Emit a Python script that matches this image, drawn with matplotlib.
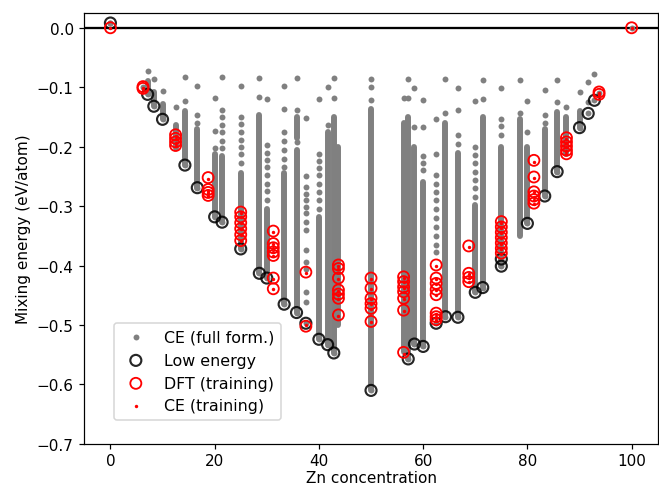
import matplotlib
matplotlib.use("Agg")
import matplotlib.pyplot as plt

# ---------------- data ----------------
# CE (full formation) : isolated points per Zn concentration
ce_sparse_conc = [0, 6.25, 7.14, 8.33, 10, 12.5, 14.29, 16.67, 20, 21.43, 25,
                  28.57, 30, 33.33, 35.71, 37.5, 40, 41.67, 42.86, 50, 56.25,
                  57.14, 58.33, 60, 62.5, 64.29, 66.67, 70, 71.43, 75, 78.57,
                  80, 83.33, 85.71, 87.5, 90, 91.67, 92.86, 93.75, 100]
ce_sparse_vals = [
    [0.008],
    [-0.100],
    [-0.073],
    [-0.087],
    [-0.106],
    [-0.133],
    [-0.082, -0.124],
    [-0.098, -0.146, -0.160],
    [-0.118, -0.174, -0.202],
    [-0.083, -0.139, -0.150, -0.163, -0.176, -0.190, -0.203],
    [-0.098, -0.150, -0.162, -0.175, -0.188, -0.200, -0.213, -0.228],
    [-0.084, -0.116],
    [-0.119, -0.198, -0.210, -0.222, -0.235, -0.248, -0.262, -0.275, -0.290],
    [-0.098, -0.136, -0.176, -0.190, -0.205, -0.220, -0.235],
    [-0.084, -0.139, -0.192],
    [-0.152, -0.249, -0.267, -0.279, -0.290, -0.301, -0.312, -0.326, -0.340,
     -0.373, -0.394, -0.405, -0.444, -0.461],
    [-0.120, -0.212, -0.224, -0.236, -0.248, -0.262, -0.276, -0.290, -0.305],
    [-0.100, -0.164],
    [-0.084, -0.118],
    [-0.087, -0.100, -0.122],
    [-0.118],
    [-0.087, -0.118],
    [-0.102, -0.167],
    [-0.122, -0.167, -0.215, -0.228, -0.240],
    [-0.153, -0.212, -0.248, -0.262, -0.276, -0.290, -0.305, -0.320, -0.335,
     -0.350, -0.365, -0.377],
    [-0.087, -0.143],
    [-0.102, -0.139, -0.180, -0.195],
    [-0.124, -0.200, -0.214, -0.228, -0.242, -0.256, -0.270, -0.284],
    [-0.088, -0.119],
    [-0.102, -0.153, -0.166, -0.180],
    [-0.088, -0.143],
    [-0.124, -0.175],
    [-0.105, -0.146, -0.160],
    [-0.088, -0.125],
    [-0.133],
    [-0.108],
    [-0.091, -0.125],
    [-0.077],
    [-0.110],
    [0.0],
]

# CE (full formation) : densely populated energy ranges per concentration
dense_conc = [7.14, 8.33, 10, 12.5, 14.29, 16.67, 20, 21.43, 25, 28.57, 30,
              33.33, 35.71, 35.71, 40, 41.67, 42.86, 43.75, 50, 56.25, 57.14,
              58.33, 60, 64.29, 66.67, 70, 71.43, 75, 78.57, 80, 83.33, 85.71,
              87.5, 90]
dense_top = [-0.090, -0.108, -0.128, -0.164, -0.140, -0.170, -0.213, -0.216,
             -0.245, -0.147, -0.305, -0.245, -0.150, -0.205, -0.318, -0.175,
             -0.150, -0.200, -0.136, -0.160, -0.150, -0.200, -0.259, -0.160,
             -0.210, -0.298, -0.150, -0.200, -0.153, -0.200, -0.170, -0.142,
             -0.150, -0.140]
dense_bottom = [-0.112, -0.132, -0.154, -0.203, -0.231, -0.269, -0.318, -0.327,
                -0.372, -0.413, -0.421, -0.465, -0.185, -0.479, -0.524, -0.533,
                -0.547, -0.500, -0.610, -0.546, -0.557, -0.532, -0.536, -0.486,
                -0.487, -0.445, -0.437, -0.401, -0.351, -0.329, -0.283, -0.242,
                -0.213, -0.168]

# Low energy structures
low_conc = [0, 7.14, 8.33, 10, 14.29, 16.67, 20, 21.43, 25, 28.57, 30, 33.33,
            35.71, 37.5, 40, 41.67, 42.86, 50, 57.14, 58.33, 60, 62.5, 64.29,
            66.67, 70, 71.43, 75, 75, 80, 83.33, 85.71, 90, 91.67, 92.86]
low_energy = [0.008, -0.112, -0.132, -0.154, -0.231, -0.269, -0.318, -0.327,
              -0.372, -0.413, -0.421, -0.465, -0.479, -0.497, -0.524, -0.533,
              -0.547, -0.610, -0.557, -0.532, -0.536, -0.497, -0.486, -0.487,
              -0.445, -0.437, -0.389, -0.401, -0.329, -0.283, -0.242, -0.168,
              -0.144, -0.122]

# DFT training set
dft_conc = [0, 6.25, 6.25,
            12.5, 12.5, 12.5, 12.5,
            18.75, 18.75, 18.75, 18.75,
            25, 25, 25, 25, 25, 25,
            31.25, 31.25, 31.25, 31.25, 31.25, 31.25, 31.25,
            37.5, 37.5,
            43.75, 43.75, 43.75, 43.75, 43.75, 43.75, 43.75,
            50, 50, 50, 50, 50, 50,
            56.25, 56.25, 56.25, 56.25, 56.25, 56.25, 56.25,
            62.5, 62.5, 62.5, 62.5, 62.5, 62.5, 62.5, 62.5,
            68.75, 68.75, 68.75, 68.75,
            75, 75, 75, 75, 75, 75, 75,
            81.25, 81.25, 81.25, 81.25, 81.25, 81.25,
            87.5, 87.5, 87.5, 87.5, 87.5,
            93.75, 93.75, 100]
dft_energy = [0.0, -0.099, -0.102,
              -0.180, -0.186, -0.192, -0.198,
              -0.252, -0.272, -0.277, -0.282,
              -0.310, -0.318, -0.328, -0.338, -0.348, -0.358,
              -0.342, -0.363, -0.370, -0.377, -0.383, -0.421, -0.439,
              -0.411, -0.502,
              -0.399, -0.405, -0.421, -0.441, -0.448, -0.455, -0.483,
              -0.421, -0.438, -0.455, -0.464, -0.472, -0.494,
              -0.419, -0.427, -0.436, -0.444, -0.455, -0.475, -0.546,
              -0.399, -0.421, -0.430, -0.440, -0.449, -0.480, -0.486, -0.491,
              -0.367, -0.413, -0.420, -0.427,
              -0.326, -0.335, -0.344, -0.353, -0.362, -0.371, -0.379,
              -0.223, -0.251, -0.276, -0.283, -0.289, -0.295,
              -0.185, -0.192, -0.199, -0.206, -0.212,
              -0.108, -0.112, 0.0]

# CE prediction of the training set (coincides with DFT within marker size)
ce_train_conc = list(dft_conc)
ce_train_energy = [0.0, -0.101, -0.103,
                   -0.182, -0.187, -0.193, -0.199,
                   -0.254, -0.274, -0.278, -0.283,
                   -0.312, -0.319, -0.329, -0.339, -0.349, -0.359,
                   -0.344, -0.364, -0.371, -0.378, -0.384, -0.422, -0.440,
                   -0.413, -0.500,
                   -0.401, -0.406, -0.422, -0.442, -0.449, -0.456, -0.484,
                   -0.422, -0.439, -0.456, -0.465, -0.473, -0.495,
                   -0.421, -0.428, -0.437, -0.445, -0.456, -0.476, -0.548,
                   -0.401, -0.422, -0.431, -0.441, -0.450, -0.481, -0.487, -0.492,
                   -0.369, -0.414, -0.421, -0.428,
                   -0.328, -0.336, -0.345, -0.354, -0.363, -0.372, -0.380,
                   -0.225, -0.253, -0.277, -0.284, -0.290, -0.296,
                   -0.187, -0.193, -0.200, -0.207, -0.213,
                   -0.110, -0.113, 0.0]

x_ticks = [0, 20, 40, 60, 80, 100]
y_ticks = [0.0, -0.1, -0.2, -0.3, -0.4, -0.5, -0.6, -0.7]

# ---------------- figure ----------------
fig = plt.figure(figsize=(659 / 110, 490 / 110), dpi=110)
ax = fig.add_axes([0.128, 0.092, 0.870, 0.879])

gray = "#808080"

# flatten the sparse points
sx, sy = [], []
for c, vals in zip(ce_sparse_conc, ce_sparse_vals):
    for v in vals:
        sx.append(c)
        sy.append(v)
# gray points at low energy positions (they are CE structures too)
sx += low_conc
sy += low_energy

lc = ax.vlines(dense_conc, dense_bottom, dense_top, colors=gray,
               linewidth=3.9, zorder=1)
lc.set_capstyle("round")
ax.scatter(sx, sy, s=15, color=gray, linewidths=0, zorder=2,
           label="CE (full form.)")
ax.scatter(low_conc, low_energy, s=52, facecolors="none", edgecolors="black",
           linewidths=1.4, alpha=0.85, zorder=3, label="Low energy")
ax.scatter(dft_conc, dft_energy, s=52, facecolors="none", edgecolors="red",
           linewidths=1.2, zorder=4, label="DFT (training)")
ax.scatter(ce_train_conc, ce_train_energy, s=5, color="red", linewidths=0,
           zorder=5, label="CE (training)")

ax.axhline(0.0, color="black", linewidth=1.5, zorder=0)

ax.set_xlim(-5, 105)
ax.set_ylim(-0.7, 0.0245)
ax.set_xticks(x_ticks)
ax.set_yticks(y_ticks)
ax.tick_params(axis="x", pad=2.5)
ax.set_xlabel("Zn concentration", labelpad=1)
ax.set_ylabel("Mixing energy (eV/atom)")

ax.legend(loc="lower left", bbox_to_anchor=(0.051, 0.056), borderaxespad=0,
          frameon=True, fontsize=10.4)

fig.savefig("out.png", dpi=110)
